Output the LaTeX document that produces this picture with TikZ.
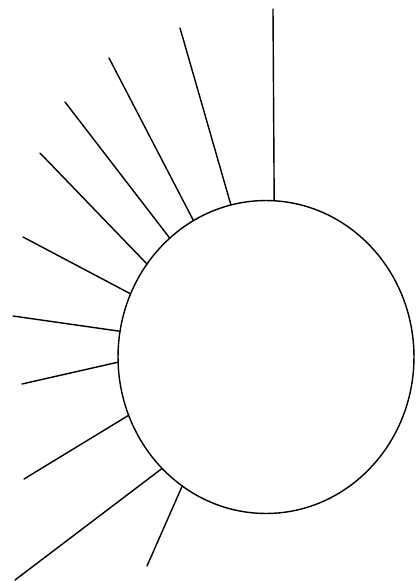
\documentclass[tikz,border=0pt]{standalone}
\usetikzlibrary{shapes.geometric}

\tikzstyle{disc} = [ellipse, draw=black, line width=0.8pt, minimum width=5.92cm, minimum height=6.26cm, inner sep=0pt, outer sep=0pt]
\tikzstyle{ray} = [line width=0.8pt, line cap=round]

\begin{document}
\begin{tikzpicture}[x=0.02cm, y=-0.02cm]
\useasboundingbox (0,0) rectangle (417,581);
\node (sun) [disc] at (266,357) {};
% rays: anchor angle on the disc / outer end
\foreach \a/\x/\y [count=\i] in {87.4/273/9, 103.2/180/28, 118/109/58, 129.8/65/102, 142.7/40/153, 155.5/23/237, 170.7/13/316, 182.3/22/384, 203.8/24/479, 227.4/15/580, 237.1/147/566}
{
\coordinate (ray\i) at (\x,\y);
\draw [ray] (sun.\a) -- (ray\i);
}
\end{tikzpicture}
\end{document}
